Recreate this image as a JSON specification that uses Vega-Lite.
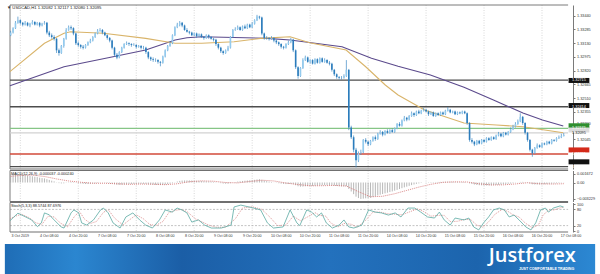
{
"$schema":"https://vega.github.io/schema/vega-lite/v6.json",
"width":600,"height":274,"autosize":{"type":"none"},"padding":0,"background":"white",
"config":{"view":{"stroke":null},"font":"Liberation Sans","axis":{"labelFont":"Liberation Sans"}},
"datasets":{
"c":[
{"i":-4,"o":1.3322,"h":1.3327,"l":1.3321,"c":1.3325,"m":0.001672},
{"i":-3,"o":1.3325,"h":1.3331,"l":1.3324,"c":1.333,"m":0.00165},
{"i":-2,"o":1.333,"h":1.3338,"l":1.3329,"c":1.3336,"m":0.00164},
{"i":-1,"o":1.3336,"h":1.3343,"l":1.3335,"c":1.3339,"m":0.00163},
{"i":0,"o":1.3339,"h":1.334,"l":1.3334,"c":1.3336,"m":0.0016},
{"i":1,"o":1.3336,"h":1.3337,"l":1.3332,"c":1.3334,"m":0.00152},
{"i":2,"o":1.3334,"h":1.3338,"l":1.3333,"c":1.3336,"m":0.00145},
{"i":3,"o":1.3336,"h":1.3337,"l":1.3332,"c":1.3333,"m":0.00136},
{"i":4,"o":1.3333,"h":1.3336,"l":1.3331,"c":1.3335,"m":0.00128},
{"i":5,"o":1.3335,"h":1.3339,"l":1.3334,"c":1.3337,"m":0.00122},
{"i":6,"o":1.3337,"h":1.3338,"l":1.3333,"c":1.3334,"m":0.00113},
{"i":7,"o":1.3334,"h":1.3337,"l":1.3333,"c":1.3336,"m":0.00105},
{"i":8,"o":1.3336,"h":1.3337,"l":1.3331,"c":1.3333,"m":0.00094},
{"i":9,"o":1.3333,"h":1.3336,"l":1.3332,"c":1.3335,"m":0.00086},
{"i":10,"o":1.3335,"h":1.3338,"l":1.3334,"c":1.3336,"m":0.0008},
{"i":11,"o":1.3336,"h":1.3337,"l":1.3323,"c":1.3325,"m":0.00065},
{"i":12,"o":1.3325,"h":1.3327,"l":1.332,"c":1.3322,"m":0.0005},
{"i":13,"o":1.3322,"h":1.3324,"l":1.3318,"c":1.332,"m":0.00036},
{"i":14,"o":1.332,"h":1.3322,"l":1.3316,"c":1.3318,"m":0.00022},
{"i":15,"o":1.3318,"h":1.3319,"l":1.3302,"c":1.3305,"m":0.00004},
{"i":16,"o":1.3305,"h":1.3307,"l":1.3299,"c":1.3302,"m":-0.00012},
{"i":17,"o":1.3302,"h":1.3311,"l":1.3301,"c":1.331,"m":-0.00018},
{"i":18,"o":1.331,"h":1.3319,"l":1.3308,"c":1.3318,"m":-0.00016},
{"i":19,"o":1.3318,"h":1.333,"l":1.3317,"c":1.3328,"m":-0.00005},
{"i":20,"o":1.3328,"h":1.3333,"l":1.3327,"c":1.3331,"m":0.00005},
{"i":21,"o":1.3331,"h":1.3333,"l":1.3328,"c":1.333,"m":0.0001},
{"i":22,"o":1.333,"h":1.3331,"l":1.3322,"c":1.3324,"m":0.00008},
{"i":23,"o":1.3324,"h":1.3325,"l":1.3311,"c":1.3313,"m":-0.00003},
{"i":24,"o":1.3313,"h":1.3315,"l":1.3309,"c":1.3311,"m":-0.00013},
{"i":25,"o":1.3311,"h":1.3312,"l":1.3307,"c":1.3309,"m":-0.00021},
{"i":26,"o":1.3309,"h":1.3311,"l":1.3306,"c":1.3308,"m":-0.00028},
{"i":27,"o":1.3308,"h":1.3312,"l":1.3307,"c":1.3311,"m":-0.0003},
{"i":28,"o":1.3311,"h":1.3315,"l":1.331,"c":1.3314,"m":-0.0003},
{"i":29,"o":1.3314,"h":1.3318,"l":1.3313,"c":1.3316,"m":-0.00027},
{"i":30,"o":1.3316,"h":1.3321,"l":1.3315,"c":1.332,"m":-0.00022},
{"i":31,"o":1.332,"h":1.3325,"l":1.3319,"c":1.3324,"m":-0.00016},
{"i":32,"o":1.3324,"h":1.3329,"l":1.3323,"c":1.3327,"m":-0.0001},
{"i":33,"o":1.3327,"h":1.333,"l":1.3326,"c":1.3328,"m":-0.00005},
{"i":34,"o":1.3328,"h":1.3329,"l":1.3323,"c":1.3325,"m":-0.00004},
{"i":35,"o":1.3325,"h":1.3326,"l":1.3321,"c":1.3322,"m":-0.00006},
{"i":36,"o":1.3322,"h":1.3323,"l":1.3317,"c":1.3319,"m":-0.0001},
{"i":37,"o":1.3319,"h":1.332,"l":1.3314,"c":1.3316,"m":-0.00015},
{"i":38,"o":1.3316,"h":1.3317,"l":1.3306,"c":1.3308,"m":-0.00024},
{"i":39,"o":1.3308,"h":1.3309,"l":1.3298,"c":1.33,"m":-0.00035},
{"i":40,"o":1.33,"h":1.3302,"l":1.3295,"c":1.3297,"m":-0.00044},
{"i":41,"o":1.3297,"h":1.3304,"l":1.3296,"c":1.3303,"m":-0.00046},
{"i":42,"o":1.3303,"h":1.3309,"l":1.3302,"c":1.3308,"m":-0.00044},
{"i":43,"o":1.3308,"h":1.3313,"l":1.3307,"c":1.3312,"m":-0.0004},
{"i":44,"o":1.3312,"h":1.3315,"l":1.3311,"c":1.3313,"m":-0.00036},
{"i":45,"o":1.3313,"h":1.3314,"l":1.331,"c":1.3312,"m":-0.00033},
{"i":46,"o":1.3312,"h":1.3313,"l":1.3309,"c":1.3311,"m":-0.00031},
{"i":47,"o":1.3311,"h":1.3313,"l":1.331,"c":1.3311,"m":-0.00029},
{"i":48,"o":1.3311,"h":1.3312,"l":1.3307,"c":1.3309,"m":-0.00028},
{"i":49,"o":1.3309,"h":1.3311,"l":1.3308,"c":1.331,"m":-0.00026},
{"i":50,"o":1.331,"h":1.3311,"l":1.3306,"c":1.3308,"m":-0.00026},
{"i":51,"o":1.3308,"h":1.331,"l":1.3306,"c":1.3308,"m":-0.00025},
{"i":52,"o":1.3308,"h":1.3309,"l":1.3301,"c":1.3303,"m":-0.00028},
{"i":53,"o":1.3303,"h":1.3304,"l":1.3295,"c":1.3297,"m":-0.00034},
{"i":54,"o":1.3297,"h":1.3298,"l":1.3293,"c":1.3295,"m":-0.00039},
{"i":55,"o":1.3295,"h":1.3297,"l":1.3292,"c":1.3294,"m":-0.00043},
{"i":56,"o":1.3294,"h":1.3296,"l":1.3292,"c":1.3294,"m":-0.00046},
{"i":57,"o":1.3294,"h":1.3295,"l":1.329,"c":1.3292,"m":-0.00049},
{"i":58,"o":1.3292,"h":1.3293,"l":1.3287,"c":1.3291,"m":-0.00051},
{"i":59,"o":1.3291,"h":1.3299,"l":1.329,"c":1.3298,"m":-0.00048},
{"i":60,"o":1.3298,"h":1.3306,"l":1.3297,"c":1.3305,"m":-0.00041},
{"i":61,"o":1.3305,"h":1.3311,"l":1.3304,"c":1.331,"m":-0.00033},
{"i":62,"o":1.331,"h":1.3315,"l":1.3309,"c":1.3313,"m":-0.00024},
{"i":63,"o":1.3313,"h":1.3323,"l":1.3312,"c":1.3322,"m":-0.00012},
{"i":64,"o":1.3322,"h":1.3332,"l":1.3321,"c":1.3331,"m":0.00005},
{"i":65,"o":1.3331,"h":1.3336,"l":1.333,"c":1.3334,"m":0.00019},
{"i":66,"o":1.3334,"h":1.3338,"l":1.3332,"c":1.3336,"m":0.00031},
{"i":67,"o":1.3336,"h":1.3337,"l":1.3331,"c":1.3333,"m":0.00038},
{"i":68,"o":1.3333,"h":1.3334,"l":1.3327,"c":1.3328,"m":0.0004},
{"i":69,"o":1.3328,"h":1.333,"l":1.3325,"c":1.3326,"m":0.00041},
{"i":70,"o":1.3326,"h":1.3327,"l":1.3323,"c":1.3325,"m":0.0004},
{"i":71,"o":1.3325,"h":1.3326,"l":1.3321,"c":1.3322,"m":0.00039},
{"i":72,"o":1.3322,"h":1.3325,"l":1.3321,"c":1.3324,"m":0.00037},
{"i":73,"o":1.3324,"h":1.3325,"l":1.3319,"c":1.3321,"m":0.00034},
{"i":74,"o":1.3321,"h":1.3324,"l":1.332,"c":1.3323,"m":0.00031},
{"i":75,"o":1.3323,"h":1.3324,"l":1.3319,"c":1.332,"m":0.00028},
{"i":76,"o":1.332,"h":1.3321,"l":1.3317,"c":1.3319,"m":0.00025},
{"i":77,"o":1.3319,"h":1.3323,"l":1.3318,"c":1.3322,"m":0.00023},
{"i":78,"o":1.3322,"h":1.3323,"l":1.3318,"c":1.332,"m":0.0002},
{"i":79,"o":1.332,"h":1.3321,"l":1.3317,"c":1.3318,"m":0.00017},
{"i":80,"o":1.3318,"h":1.3319,"l":1.3315,"c":1.3317,"m":0.00013},
{"i":81,"o":1.3317,"h":1.3318,"l":1.331,"c":1.3312,"m":0.00006},
{"i":82,"o":1.3312,"h":1.3313,"l":1.3306,"c":1.3308,"m":-0.00003},
{"i":83,"o":1.3308,"h":1.3309,"l":1.3302,"c":1.3304,"m":-0.00013},
{"i":84,"o":1.3304,"h":1.3305,"l":1.33,"c":1.3302,"m":-0.00021},
{"i":85,"o":1.3302,"h":1.3306,"l":1.3301,"c":1.3305,"m":-0.00024},
{"i":86,"o":1.3305,"h":1.331,"l":1.3304,"c":1.3308,"m":-0.00024},
{"i":87,"o":1.3308,"h":1.3321,"l":1.3307,"c":1.332,"m":-0.00015},
{"i":88,"o":1.332,"h":1.3329,"l":1.3319,"c":1.3328,"m":-0.00002},
{"i":89,"o":1.3328,"h":1.3331,"l":1.3327,"c":1.3329,"m":0.00009},
{"i":90,"o":1.3329,"h":1.3333,"l":1.3328,"c":1.3331,"m":0.00018},
{"i":91,"o":1.3331,"h":1.3332,"l":1.3327,"c":1.3328,"m":0.00024},
{"i":92,"o":1.3328,"h":1.3333,"l":1.3327,"c":1.3332,"m":0.0003},
{"i":93,"o":1.3332,"h":1.3334,"l":1.3329,"c":1.333,"m":0.00035},
{"i":94,"o":1.333,"h":1.3335,"l":1.3329,"c":1.3334,"m":0.00039},
{"i":95,"o":1.3334,"h":1.3335,"l":1.333,"c":1.3331,"m":0.00042},
{"i":96,"o":1.3331,"h":1.3337,"l":1.333,"c":1.3335,"m":0.00046},
{"i":97,"o":1.3335,"h":1.334,"l":1.3334,"c":1.3339,"m":0.00052},
{"i":98,"o":1.3339,"h":1.3345,"l":1.3338,"c":1.3343,"m":0.0006},
{"i":99,"o":1.3343,"h":1.3344,"l":1.334,"c":1.3342,"m":0.00065},
{"i":100,"o":1.3342,"h":1.3343,"l":1.3322,"c":1.3324,"m":0.00052},
{"i":101,"o":1.3324,"h":1.3325,"l":1.3317,"c":1.3319,"m":0.00038},
{"i":102,"o":1.3319,"h":1.3321,"l":1.3317,"c":1.3319,"m":0.00027},
{"i":103,"o":1.3319,"h":1.332,"l":1.3316,"c":1.3318,"m":0.00017},
{"i":104,"o":1.3318,"h":1.3321,"l":1.3317,"c":1.3319,"m":0.0001},
{"i":105,"o":1.3319,"h":1.332,"l":1.3314,"c":1.3316,"m":0.00002},
{"i":106,"o":1.3316,"h":1.3317,"l":1.3312,"c":1.3314,"m":-0.00006},
{"i":107,"o":1.3314,"h":1.3315,"l":1.331,"c":1.3312,"m":-0.00014},
{"i":108,"o":1.3312,"h":1.3313,"l":1.3307,"c":1.3309,"m":-0.00022},
{"i":109,"o":1.3309,"h":1.331,"l":1.3306,"c":1.3308,"m":-0.00029},
{"i":110,"o":1.3308,"h":1.3313,"l":1.3307,"c":1.3312,"m":-0.00031},
{"i":111,"o":1.3312,"h":1.3316,"l":1.3311,"c":1.3314,"m":-0.0003},
{"i":112,"o":1.3314,"h":1.3319,"l":1.3313,"c":1.3317,"m":-0.00027},
{"i":113,"o":1.3317,"h":1.3318,"l":1.3303,"c":1.3305,"m":-0.00034},
{"i":114,"o":1.3305,"h":1.3306,"l":1.3284,"c":1.3286,"m":-0.00053},
{"i":115,"o":1.3286,"h":1.3287,"l":1.3273,"c":1.3276,"m":-0.00074},
{"i":116,"o":1.3276,"h":1.3286,"l":1.3275,"c":1.3285,"m":-0.00082},
{"i":117,"o":1.3285,"h":1.3296,"l":1.3284,"c":1.3294,"m":-0.0008},
{"i":118,"o":1.3294,"h":1.3299,"l":1.3293,"c":1.3297,"m":-0.00075},
{"i":119,"o":1.3297,"h":1.3298,"l":1.3291,"c":1.3292,"m":-0.00073},
{"i":120,"o":1.3292,"h":1.3295,"l":1.329,"c":1.3294,"m":-0.00071},
{"i":121,"o":1.3294,"h":1.3295,"l":1.3289,"c":1.329,"m":-0.00068},
{"i":122,"o":1.329,"h":1.3296,"l":1.3289,"c":1.3295,"m":-0.00065},
{"i":123,"o":1.3295,"h":1.3296,"l":1.329,"c":1.3291,"m":-0.00062},
{"i":124,"o":1.3291,"h":1.3297,"l":1.329,"c":1.3296,"m":-0.00058},
{"i":125,"o":1.3296,"h":1.3297,"l":1.3291,"c":1.3292,"m":-0.00055},
{"i":126,"o":1.3292,"h":1.3296,"l":1.3291,"c":1.3294,"m":-0.00052},
{"i":127,"o":1.3294,"h":1.3295,"l":1.329,"c":1.3291,"m":-0.0005},
{"i":128,"o":1.3291,"h":1.3293,"l":1.3288,"c":1.329,"m":-0.0005},
{"i":129,"o":1.329,"h":1.3291,"l":1.3281,"c":1.3283,"m":-0.00055},
{"i":130,"o":1.3283,"h":1.3284,"l":1.3276,"c":1.3278,"m":-0.00062},
{"i":131,"o":1.3278,"h":1.3279,"l":1.3273,"c":1.3275,"m":-0.00069},
{"i":132,"o":1.3275,"h":1.3276,"l":1.3272,"c":1.3274,"m":-0.00074},
{"i":133,"o":1.3274,"h":1.3276,"l":1.3272,"c":1.3274,"m":-0.00077},
{"i":134,"o":1.3274,"h":1.3278,"l":1.3273,"c":1.3276,"m":-0.00077},
{"i":135,"o":1.3276,"h":1.3294,"l":1.3275,"c":1.3283,"m":-0.00071},
{"i":136,"o":1.3283,"h":1.3284,"l":1.3215,"c":1.3218,"m":-0.00126},
{"i":137,"o":1.3218,"h":1.322,"l":1.3205,"c":1.3207,"m":-0.00176},
{"i":138,"o":1.3207,"h":1.3209,"l":1.319,"c":1.3193,"m":-0.00228},
{"i":139,"o":1.3193,"h":1.3195,"l":1.3173,"c":1.3181,"m":-0.00278},
{"i":140,"o":1.3181,"h":1.3191,"l":1.3179,"c":1.3189,"m":-0.00305},
{"i":141,"o":1.3189,"h":1.3193,"l":1.3187,"c":1.319,"m":-0.003229},
{"i":142,"o":1.319,"h":1.3205,"l":1.3189,"c":1.3204,"m":-0.00316},
{"i":143,"o":1.3204,"h":1.3206,"l":1.32,"c":1.3202,"m":-0.0031},
{"i":144,"o":1.3202,"h":1.3203,"l":1.3197,"c":1.3199,"m":-0.00305},
{"i":145,"o":1.3199,"h":1.3204,"l":1.3198,"c":1.3203,"m":-0.003},
{"i":146,"o":1.3203,"h":1.3208,"l":1.3202,"c":1.3207,"m":-0.00286},
{"i":147,"o":1.3207,"h":1.3209,"l":1.3203,"c":1.3205,"m":-0.0027},
{"i":148,"o":1.3205,"h":1.3212,"l":1.3204,"c":1.3211,"m":-0.00253},
{"i":149,"o":1.3211,"h":1.3215,"l":1.321,"c":1.3213,"m":-0.00239},
{"i":150,"o":1.3213,"h":1.3214,"l":1.3208,"c":1.321,"m":-0.00226},
{"i":151,"o":1.321,"h":1.3215,"l":1.3209,"c":1.3214,"m":-0.00213},
{"i":152,"o":1.3214,"h":1.3216,"l":1.3211,"c":1.3212,"m":-0.002},
{"i":153,"o":1.3212,"h":1.3216,"l":1.3211,"c":1.3215,"m":-0.00187},
{"i":154,"o":1.3215,"h":1.3217,"l":1.3212,"c":1.3213,"m":-0.00175},
{"i":155,"o":1.3213,"h":1.3218,"l":1.3212,"c":1.3217,"m":-0.00161},
{"i":156,"o":1.3217,"h":1.3223,"l":1.3216,"c":1.3222,"m":-0.00144},
{"i":157,"o":1.3222,"h":1.3224,"l":1.3219,"c":1.322,"m":-0.00128},
{"i":158,"o":1.322,"h":1.3227,"l":1.3219,"c":1.3226,"m":-0.00111},
{"i":159,"o":1.3226,"h":1.3231,"l":1.3225,"c":1.3229,"m":-0.00095},
{"i":160,"o":1.3229,"h":1.323,"l":1.3225,"c":1.3227,"m":-0.00081},
{"i":161,"o":1.3227,"h":1.3232,"l":1.3226,"c":1.3231,"m":-0.00066},
{"i":162,"o":1.3231,"h":1.3236,"l":1.323,"c":1.3234,"m":-0.00051},
{"i":163,"o":1.3234,"h":1.3235,"l":1.323,"c":1.3232,"m":-0.00039},
{"i":164,"o":1.3232,"h":1.3237,"l":1.3231,"c":1.3236,"m":-0.00027},
{"i":165,"o":1.3236,"h":1.3238,"l":1.3233,"c":1.3234,"m":-0.00017},
{"i":166,"o":1.3234,"h":1.3238,"l":1.3233,"c":1.3237,"m":-0.00008},
{"i":167,"o":1.3237,"h":1.324,"l":1.3236,"c":1.3238,"m":0},
{"i":168,"o":1.3238,"h":1.3239,"l":1.3235,"c":1.3236,"m":0.00004},
{"i":169,"o":1.3236,"h":1.3237,"l":1.3231,"c":1.3233,"m":0.00006},
{"i":170,"o":1.3233,"h":1.3236,"l":1.3232,"c":1.3235,"m":0.00008},
{"i":171,"o":1.3235,"h":1.3236,"l":1.323,"c":1.3231,"m":0.00008},
{"i":172,"o":1.3231,"h":1.3235,"l":1.323,"c":1.3234,"m":0.0001},
{"i":173,"o":1.3234,"h":1.3235,"l":1.3231,"c":1.3232,"m":0.00011},
{"i":174,"o":1.3232,"h":1.3236,"l":1.3231,"c":1.3235,"m":0.00012},
{"i":175,"o":1.3235,"h":1.3236,"l":1.3232,"c":1.3233,"m":0.00014},
{"i":176,"o":1.3233,"h":1.3238,"l":1.3232,"c":1.3237,"m":0.00016},
{"i":177,"o":1.3237,"h":1.3241,"l":1.3236,"c":1.3238,"m":0.00017},
{"i":178,"o":1.3238,"h":1.3239,"l":1.3234,"c":1.3235,"m":0.00016},
{"i":179,"o":1.3235,"h":1.3237,"l":1.3234,"c":1.3236,"m":0.00014},
{"i":180,"o":1.3236,"h":1.3237,"l":1.3232,"c":1.3233,"m":0.00013},
{"i":181,"o":1.3233,"h":1.3236,"l":1.3232,"c":1.3235,"m":0.00012},
{"i":182,"o":1.3235,"h":1.3236,"l":1.3233,"c":1.3234,"m":0.00011},
{"i":183,"o":1.3234,"h":1.3237,"l":1.3233,"c":1.3236,"m":0.0001},
{"i":184,"o":1.3236,"h":1.3237,"l":1.3233,"c":1.3234,"m":0.00009},
{"i":185,"o":1.3234,"h":1.3235,"l":1.3221,"c":1.3223,"m":0},
{"i":186,"o":1.3223,"h":1.3224,"l":1.3202,"c":1.3204,"m":-0.00018},
{"i":187,"o":1.3204,"h":1.3206,"l":1.32,"c":1.3202,"m":-0.0003},
{"i":188,"o":1.3202,"h":1.3203,"l":1.3197,"c":1.3199,"m":-0.0004},
{"i":189,"o":1.3199,"h":1.3204,"l":1.3198,"c":1.3203,"m":-0.00048},
{"i":190,"o":1.3203,"h":1.3204,"l":1.3199,"c":1.32,"m":-0.00053},
{"i":191,"o":1.32,"h":1.3205,"l":1.3199,"c":1.3204,"m":-0.00056},
{"i":192,"o":1.3204,"h":1.3205,"l":1.3201,"c":1.3202,"m":-0.00058},
{"i":193,"o":1.3202,"h":1.3207,"l":1.3201,"c":1.3206,"m":-0.00058},
{"i":194,"o":1.3206,"h":1.3207,"l":1.3203,"c":1.3204,"m":-0.00057},
{"i":195,"o":1.3204,"h":1.3208,"l":1.3203,"c":1.3207,"m":-0.00055},
{"i":196,"o":1.3207,"h":1.3208,"l":1.3204,"c":1.3205,"m":-0.00052},
{"i":197,"o":1.3205,"h":1.321,"l":1.3204,"c":1.3209,"m":-0.00049},
{"i":198,"o":1.3209,"h":1.3213,"l":1.3208,"c":1.3211,"m":-0.00045},
{"i":199,"o":1.3211,"h":1.3212,"l":1.3207,"c":1.3208,"m":-0.0004},
{"i":200,"o":1.3208,"h":1.3213,"l":1.3207,"c":1.3212,"m":-0.00035},
{"i":201,"o":1.3212,"h":1.3213,"l":1.3209,"c":1.321,"m":-0.00031},
{"i":202,"o":1.321,"h":1.3214,"l":1.3209,"c":1.3213,"m":-0.00026},
{"i":203,"o":1.3213,"h":1.3218,"l":1.3212,"c":1.3216,"m":-0.0002},
{"i":204,"o":1.3216,"h":1.3221,"l":1.3215,"c":1.3219,"m":-0.00012},
{"i":205,"o":1.3219,"h":1.3224,"l":1.3218,"c":1.3222,"m":-0.00005},
{"i":206,"o":1.3222,"h":1.3227,"l":1.3221,"c":1.3225,"m":0.00003},
{"i":207,"o":1.3225,"h":1.3234,"l":1.3224,"c":1.323,"m":0.00011},
{"i":208,"o":1.323,"h":1.3231,"l":1.3221,"c":1.3223,"m":0.00012},
{"i":209,"o":1.3223,"h":1.3224,"l":1.321,"c":1.3212,"m":0.00005},
{"i":210,"o":1.3212,"h":1.3213,"l":1.3202,"c":1.3204,"m":-0.00007},
{"i":211,"o":1.3204,"h":1.3205,"l":1.3191,"c":1.3193,"m":-0.00022},
{"i":212,"o":1.3193,"h":1.3194,"l":1.3185,"c":1.3189,"m":-0.00035},
{"i":213,"o":1.3189,"h":1.3196,"l":1.3188,"c":1.3195,"m":-0.00039},
{"i":214,"o":1.3195,"h":1.32,"l":1.3194,"c":1.3198,"m":-0.0004},
{"i":215,"o":1.3198,"h":1.3199,"l":1.3195,"c":1.3196,"m":-0.00039},
{"i":216,"o":1.3196,"h":1.3201,"l":1.3195,"c":1.32,"m":-0.00037},
{"i":217,"o":1.32,"h":1.3201,"l":1.3198,"c":1.3199,"m":-0.00034},
{"i":218,"o":1.3199,"h":1.3203,"l":1.3198,"c":1.3202,"m":-0.00031},
{"i":219,"o":1.3202,"h":1.3203,"l":1.3199,"c":1.32,"m":-0.00027},
{"i":220,"o":1.32,"h":1.3205,"l":1.3199,"c":1.3204,"m":-0.00023},
{"i":221,"o":1.3204,"h":1.3205,"l":1.3202,"c":1.3203,"m":-0.00019},
{"i":222,"o":1.3203,"h":1.3207,"l":1.3202,"c":1.3206,"m":-0.00015},
{"i":223,"o":1.3206,"h":1.3209,"l":1.3205,"c":1.3207,"m":-0.0001},
{"i":224,"o":1.3207,"h":1.3211,"l":1.3206,"c":1.32082,"m":-0.00006},
{"i":225,"o":1.32082,"h":1.32117,"l":1.3208,"c":1.32095,"m":-0.000037}
],
"ma":[
{"i":-4.3,"p":1.3265,"s":"a"},{"i":18.1,"p":1.32865,"s":"a"},{"i":38.4,"p":1.32978,"s":"a"},{"i":51.9,"p":1.33053,"s":"a"},{"i":64.1,"p":1.33166,"s":"a"},{"i":69,"p":1.33192,"s":"a"},{"i":75.1,"p":1.33203,"s":"a"},{"i":102.3,"p":1.33185,"s":"a"},{"i":111.7,"p":1.33166,"s":"a"},{"i":133.2,"p":1.33091,"s":"a"},{"i":145.4,"p":1.3296,"s":"a"},{"i":156.4,"p":1.32871,"s":"a"},{"i":169.8,"p":1.32772,"s":"a"},{"i":183.7,"p":1.32633,"s":"a"},{"i":195.9,"p":1.3249,"s":"a"},{"i":208.1,"p":1.32343,"s":"a"},{"i":216.2,"p":1.32264,"s":"a"},{"i":224.8,"p":1.32197,"s":"a"},
{"i":-4.3,"p":1.3281,"s":"b"},{"i":10,"p":1.33129,"s":"b"},{"i":18.1,"p":1.33242,"s":"b"},{"i":20.8,"p":1.3326,"s":"b"},{"i":34.4,"p":1.33242,"s":"b"},{"i":51.9,"p":1.33185,"s":"b"},{"i":64.1,"p":1.33129,"s":"b"},{"i":75.1,"p":1.33129,"s":"b"},{"i":88.5,"p":1.33147,"s":"b"},{"i":99.5,"p":1.33185,"s":"b"},{"i":111.7,"p":1.33203,"s":"b"},{"i":119.8,"p":1.33136,"s":"b"},{"i":134.9,"p":1.33053,"s":"b"},{"i":143,"p":1.32865,"s":"b"},{"i":151.1,"p":1.32659,"s":"b"},{"i":156.4,"p":1.32546,"s":"b"},{"i":167.4,"p":1.32377,"s":"b"},{"i":183.7,"p":1.3223,"s":"b"},{"i":197.1,"p":1.32208,"s":"b"},{"i":208.1,"p":1.32189,"s":"b"},{"i":224.8,"p":1.32121,"s":"b"}
],
"sig":[
{"i":-4,"v":0.0012},{"i":0,"v":0.0014},{"i":5,"v":0.00145},{"i":10,"v":0.00118},{"i":15,"v":0.0007},{"i":20,"v":0.0003},{"i":25,"v":0.00005},{"i":30,"v":-0.00015},{"i":35,"v":-0.00015},{"i":40,"v":-0.00025},{"i":45,"v":-0.00035},{"i":50,"v":-0.0003},{"i":55,"v":-0.00033},{"i":60,"v":-0.00043},{"i":65,"v":-0.00025},{"i":70,"v":0.00015},{"i":75,"v":0.00032},{"i":80,"v":0.00025},{"i":85,"v":0},{"i":90,"v":-0.00008},{"i":95,"v":0.0002},{"i":100,"v":0.00045},{"i":105,"v":0.0003},{"i":110,"v":-0.0001},{"i":115,"v":-0.0004},{"i":120,"v":-0.00065},{"i":125,"v":-0.00063},{"i":130,"v":-0.00057},{"i":135,"v":-0.00068},{"i":140,"v":-0.0018},{"i":145,"v":-0.0028},{"i":150,"v":-0.0027},{"i":155,"v":-0.0022},{"i":160,"v":-0.00155},{"i":165,"v":-0.0009},{"i":170,"v":-0.00035},{"i":175,"v":0.00003},{"i":180,"v":0.00013},{"i":185,"v":0.0001},{"i":190,"v":-0.00026},{"i":195,"v":-0.00048},{"i":200,"v":-0.00046},{"i":205,"v":-0.00028},{"i":210,"v":-0.00005},{"i":215,"v":-0.00025},{"i":220,"v":-0.0003},{"i":225,"v":-0.00024}
],
"st":[
{"i":-4.3,"v":38,"s":"K"},{"i":-1,"v":66,"s":"K"},{"i":2,"v":53,"s":"K"},{"i":4.7,"v":41,"s":"K"},{"i":7.1,"v":16,"s":"K"},{"i":8.7,"v":30,"s":"K"},{"i":10,"v":67,"s":"K"},{"i":12,"v":60,"s":"K"},{"i":14,"v":41,"s":"K"},{"i":16.9,"v":15,"s":"K"},{"i":18.1,"v":11,"s":"K"},{"i":21,"v":67,"s":"K"},{"i":22.2,"v":78,"s":"K"},{"i":24.2,"v":67,"s":"K"},{"i":25.4,"v":30,"s":"K"},{"i":27.5,"v":22,"s":"K"},{"i":30.3,"v":41,"s":"K"},{"i":33.2,"v":78,"s":"K"},{"i":34.4,"v":85,"s":"K"},{"i":36.4,"v":67,"s":"K"},{"i":38.4,"v":30,"s":"K"},{"i":41.3,"v":11,"s":"K"},{"i":43.7,"v":52,"s":"K"},{"i":46.6,"v":67,"s":"K"},{"i":49.4,"v":41,"s":"K"},{"i":51.9,"v":22,"s":"K"},{"i":54.7,"v":11,"s":"K"},{"i":57.6,"v":41,"s":"K"},{"i":60,"v":78,"s":"K"},{"i":62.9,"v":70,"s":"K"},{"i":64.9,"v":85,"s":"K"},{"i":66.9,"v":78,"s":"K"},{"i":69,"v":67,"s":"K"},{"i":71,"v":33,"s":"K"},{"i":73.8,"v":41,"s":"K"},{"i":76.3,"v":22,"s":"K"},{"i":79.1,"v":11,"s":"K"},{"i":83.2,"v":11,"s":"K"},{"i":87.3,"v":22,"s":"K"},{"i":88.5,"v":89,"s":"K"},{"i":91.3,"v":96,"s":"K"},{"i":96.6,"v":85,"s":"K"},{"i":99.5,"v":78,"s":"K"},{"i":102.3,"v":30,"s":"K"},{"i":104.8,"v":11,"s":"K"},{"i":108.8,"v":15,"s":"K"},{"i":111.7,"v":78,"s":"K"},{"i":114.5,"v":30,"s":"K"},{"i":115.7,"v":20,"s":"K"},{"i":118.6,"v":78,"s":"K"},{"i":120.6,"v":70,"s":"K"},{"i":122.7,"v":52,"s":"K"},{"i":124.7,"v":67,"s":"K"},{"i":126.7,"v":30,"s":"K"},{"i":129.2,"v":11,"s":"K"},{"i":132,"v":22,"s":"K"},{"i":134,"v":41,"s":"K"},{"i":136,"v":15,"s":"K"},{"i":138.1,"v":11,"s":"K"},{"i":141.4,"v":22,"s":"K"},{"i":144.2,"v":78,"s":"K"},{"i":147,"v":70,"s":"K"},{"i":149.5,"v":67,"s":"K"},{"i":152.4,"v":59,"s":"K"},{"i":155.2,"v":67,"s":"K"},{"i":157.6,"v":52,"s":"K"},{"i":160.5,"v":85,"s":"K"},{"i":163.3,"v":85,"s":"K"},{"i":165.8,"v":70,"s":"K"},{"i":168.6,"v":52,"s":"K"},{"i":171.5,"v":48,"s":"K"},{"i":173.5,"v":70,"s":"K"},{"i":175.5,"v":41,"s":"K"},{"i":178,"v":22,"s":"K"},{"i":180,"v":48,"s":"K"},{"i":183.7,"v":41,"s":"K"},{"i":185.7,"v":48,"s":"K"},{"i":187.7,"v":15,"s":"K"},{"i":189.8,"v":4,"s":"K"},{"i":191.8,"v":30,"s":"K"},{"i":193.9,"v":52,"s":"K"},{"i":195.9,"v":78,"s":"K"},{"i":198.3,"v":85,"s":"K"},{"i":200.4,"v":78,"s":"K"},{"i":202.4,"v":52,"s":"K"},{"i":204.4,"v":59,"s":"K"},{"i":206.5,"v":41,"s":"K"},{"i":209.3,"v":15,"s":"K"},{"i":211.4,"v":4,"s":"K"},{"i":213.4,"v":30,"s":"K"},{"i":215.4,"v":78,"s":"K"},{"i":217.4,"v":85,"s":"K"},{"i":218.7,"v":70,"s":"K"},{"i":220.7,"v":85,"s":"K"},{"i":223.5,"v":93,"s":"K"},{"i":225,"v":88.57,"s":"K"},
{"i":-4.3,"v":45,"s":"D"},{"i":-2,"v":55,"s":"D"},{"i":0.5,"v":62,"s":"D"},{"i":3.5,"v":50,"s":"D"},{"i":6.5,"v":30,"s":"D"},{"i":9,"v":25,"s":"D"},{"i":11.5,"v":55,"s":"D"},{"i":14,"v":52,"s":"D"},{"i":16.5,"v":30,"s":"D"},{"i":19.5,"v":15,"s":"D"},{"i":22.5,"v":55,"s":"D"},{"i":24.5,"v":72,"s":"D"},{"i":26.5,"v":45,"s":"D"},{"i":29,"v":28,"s":"D"},{"i":31.5,"v":35,"s":"D"},{"i":34.5,"v":70,"s":"D"},{"i":36.5,"v":78,"s":"D"},{"i":39,"v":48,"s":"D"},{"i":42.5,"v":22,"s":"D"},{"i":45,"v":40,"s":"D"},{"i":48,"v":60,"s":"D"},{"i":51,"v":45,"s":"D"},{"i":53.5,"v":25,"s":"D"},{"i":56,"v":20,"s":"D"},{"i":59,"v":35,"s":"D"},{"i":61.5,"v":68,"s":"D"},{"i":64,"v":76,"s":"D"},{"i":66.5,"v":80,"s":"D"},{"i":69,"v":72,"s":"D"},{"i":72.5,"v":45,"s":"D"},{"i":75,"v":35,"s":"D"},{"i":78,"v":22,"s":"D"},{"i":81,"v":14,"s":"D"},{"i":85,"v":14,"s":"D"},{"i":89,"v":45,"s":"D"},{"i":92,"v":85,"s":"D"},{"i":96,"v":90,"s":"D"},{"i":100,"v":80,"s":"D"},{"i":103.5,"v":50,"s":"D"},{"i":106.5,"v":20,"s":"D"},{"i":110,"v":22,"s":"D"},{"i":113,"v":55,"s":"D"},{"i":116,"v":38,"s":"D"},{"i":119.5,"v":55,"s":"D"},{"i":122,"v":68,"s":"D"},{"i":124,"v":58,"s":"D"},{"i":126.5,"v":55,"s":"D"},{"i":128.5,"v":30,"s":"D"},{"i":131.5,"v":15,"s":"D"},{"i":134,"v":28,"s":"D"},{"i":137,"v":25,"s":"D"},{"i":139.5,"v":14,"s":"D"},{"i":143,"v":40,"s":"D"},{"i":146,"v":70,"s":"D"},{"i":149,"v":70,"s":"D"},{"i":152,"v":64,"s":"D"},{"i":155,"v":62,"s":"D"},{"i":158,"v":60,"s":"D"},{"i":161.5,"v":72,"s":"D"},{"i":164.5,"v":82,"s":"D"},{"i":167,"v":72,"s":"D"},{"i":170,"v":55,"s":"D"},{"i":173,"v":58,"s":"D"},{"i":175.5,"v":58,"s":"D"},{"i":178,"v":35,"s":"D"},{"i":181,"v":36,"s":"D"},{"i":184,"v":43,"s":"D"},{"i":186.5,"v":42,"s":"D"},{"i":189,"v":22,"s":"D"},{"i":191.5,"v":14,"s":"D"},{"i":194,"v":35,"s":"D"},{"i":196.5,"v":62,"s":"D"},{"i":199.5,"v":80,"s":"D"},{"i":202,"v":72,"s":"D"},{"i":204,"v":60,"s":"D"},{"i":206.5,"v":52,"s":"D"},{"i":209,"v":30,"s":"D"},{"i":212,"v":12,"s":"D"},{"i":214.5,"v":22,"s":"D"},{"i":216.5,"v":60,"s":"D"},{"i":219,"v":78,"s":"D"},{"i":221,"v":78,"s":"D"},{"i":223.5,"v":86,"s":"D"},{"i":225,"v":87.7,"s":"D"}
],
"grid":[{"i":0},{"i":24},{"i":48},{"i":72},{"i":96},{"i":120},{"i":144},{"i":168},{"i":192},{"i":216}],
"dl":[{"i":0,"lab":"3 Oct 2019"},{"i":12,"lab":"4 Oct 08:00"},{"i":24,"lab":"4 Oct 20:00"},{"i":36,"lab":"7 Oct 08:00"},{"i":48,"lab":"7 Oct 20:00"},{"i":60,"lab":"8 Oct 08:00"},{"i":72,"lab":"8 Oct 20:00"},{"i":84,"lab":"9 Oct 08:00"},{"i":96,"lab":"9 Oct 20:00"},{"i":108,"lab":"10 Oct 08:00"},{"i":120,"lab":"10 Oct 20:00"},{"i":132,"lab":"11 Oct 08:00"},{"i":144,"lab":"11 Oct 20:00"},{"i":156,"lab":"14 Oct 08:00"},{"i":168,"lab":"14 Oct 20:00"},{"i":180,"lab":"15 Oct 08:00"},{"i":192,"lab":"15 Oct 20:00"},{"i":204,"lab":"16 Oct 08:00"},{"i":216,"lab":"16 Oct 20:00"},{"i":228,"lab":"17 Oct 08:00"}],
"lv":[
{"p":1.32715,"t":"k","lab":"1.32715"},
{"p":1.32414,"t":"k","lab":"1.32414"},
{"p":1.32171,"t":"g","lab":"1.32171"},
{"p":1.3212,"t":"w","lab":"1.32095"},
{"p":1.31881,"t":"r","lab":"1.31881"},
{"p":1.31738,"t":"k","lab":"1.31738"}
],
"slv":[{"v":80},{"v":20}],
"one":[{}]
},
"resolve":{"scale":{"y":"independent"},"axis":{"y":"independent"}},
"layer":[
{"data":{"name":"one"},"mark":{"type":"rect","color":{"gradient":"linear","x1":0,"y1":0,"x2":1,"y2":0,"stops":[{"offset":0,"color":"#1f6db6"},{"offset":0.12,"color":"#2b86d0"},{"offset":0.3,"color":"#1b5ea6"},{"offset":0.55,"color":"#2371bd"},{"offset":0.8,"color":"#1c64ad"},{"offset":1,"color":"#2c88d3"}]}},
 "encoding":{"x":{"datum":-6.4,"type":"quantitative","scale":{"domain":[-4.27,228.5],"range":[5,577.2],"nice":false,"zero":false},"axis":null},"x2":{"datum":238},"y":{"datum":0,"type":"quantitative","scale":{"domain":[0,1],"range":[244,274],"nice":false,"zero":false},"axis":null},"y2":{"datum":1}}},
{"data":{"name":"one"},"mark":{"type":"text","text":"Justforex","font":"Open Sans","fontSize":20,"fontWeight":600,"color":"white","align":"center","baseline":"alphabetic"},
 "encoding":{"x":{"datum":212,"type":"quantitative","scale":{"domain":[-4.27,228.5],"range":[5,577.2],"nice":false,"zero":false},"axis":null},"y":{"datum":0.59,"type":"quantitative","scale":{"domain":[0,1],"range":[244,274],"nice":false,"zero":false},"axis":null}}},
{"data":{"name":"one"},"mark":{"type":"text","text":"JUST COMFORTABLE TRADING","font":"Liberation Sans","fontSize":3.6,"fontWeight":"bold","color":"white","align":"center","baseline":"middle"},
 "encoding":{"x":{"datum":217.9,"type":"quantitative","scale":{"domain":[-4.27,228.5],"range":[5,577.2],"nice":false,"zero":false},"axis":null},"y":{"datum":0.817,"type":"quantitative","scale":{"domain":[0,1],"range":[244,274],"nice":false,"zero":false},"axis":null}}},

{"data":{"name":"grid"},"mark":{"type":"rule","color":"#bdbdbd","strokeWidth":0.6,"strokeDash":[1,1.5]},
 "encoding":{"x":{"field":"i","type":"quantitative","scale":{"domain":[-4.27,228.5],"range":[5,577.2],"nice":false,"zero":false},"axis":null},"y":{"datum":1.33561,"type":"quantitative","scale":{"domain":[1.31712,1.33561],"range":[169,5],"nice":false,"zero":false},"axis":null},"y2":{"datum":1.31712}}},
{"data":{"name":"one"},"mark":{"type":"rule","color":"#7a7a7a","strokeWidth":1},
 "encoding":{"x":{"datum":-4.27,"type":"quantitative","scale":{"domain":[-4.27,228.5],"range":[5,577.2],"nice":false,"zero":false},"axis":null},"x2":{"datum":226.8},"y":{"datum":1.33561,"type":"quantitative","scale":{"domain":[1.31712,1.33561],"range":[169,5],"nice":false,"zero":false},"axis":null}}},
{"data":{"name":"one"},"mark":{"type":"rule","color":"#707070","strokeWidth":1.2},
 "encoding":{"x":{"datum":-4.27,"type":"quantitative","scale":{"domain":[-4.27,228.5],"range":[5,577.2],"nice":false,"zero":false},"axis":null},"x2":{"datum":226.8},"y":{"datum":1.31712,"type":"quantitative","scale":{"domain":[1.31712,1.33561],"range":[169,5],"nice":false,"zero":false},"axis":null}}},
{"data":{"name":"one"},"mark":{"type":"rule","color":"#7a7a7a","strokeWidth":1},
 "encoding":{"x":{"datum":-4.27,"type":"quantitative","scale":{"domain":[-4.27,228.5],"range":[5,577.2],"nice":false,"zero":false},"axis":null},"y":{"datum":1.33561,"type":"quantitative","scale":{"domain":[1.31712,1.33561],"range":[169,5],"nice":false,"zero":false},"axis":null},"y2":{"datum":1.31712}}},
{"data":{"name":"lv"},"mark":{"type":"rule","strokeWidth":1.3},
 "encoding":{"x":{"datum":-4.27,"type":"quantitative","scale":{"domain":[-4.27,228.5],"range":[5,577.2],"nice":false,"zero":false},"axis":null},"x2":{"datum":226.8},"y":{"field":"p","type":"quantitative","scale":{"domain":[1.31712,1.33561],"range":[169,5],"nice":false,"zero":false},"axis":null},
  "color":{"field":"t","type":"nominal","scale":{"domain":["k","g","r","w"],"range":["#4d4d4d","#86c586","#d24a3a","#d2d2d2"]},"legend":null}}},
{"data":{"name":"ma"},"mark":{"type":"line","strokeWidth":1.1},
 "encoding":{"x":{"field":"i","type":"quantitative","scale":{"domain":[-4.27,228.5],"range":[5,577.2],"nice":false,"zero":false},"axis":null},"y":{"field":"p","type":"quantitative","scale":{"domain":[1.31712,1.33561],"range":[169,5],"nice":false,"zero":false},"axis":null},
  "stroke":{"field":"s","type":"nominal","scale":{"domain":["a","b"],"range":["#5b4a8c","#d9b46a"]},"legend":null}}},
{"data":{"name":"c"},"mark":{"type":"rule","strokeWidth":0.7,"color":"#3f8ac4"},
 "encoding":{"x":{"field":"i","type":"quantitative","scale":{"domain":[-4.27,228.5],"range":[5,577.2],"nice":false,"zero":false},"axis":null},"y":{"field":"l","type":"quantitative","scale":{"domain":[1.31712,1.33561],"range":[169,5],"nice":false,"zero":false},"axis":null},"y2":{"field":"h"}}},
{"data":{"name":"c"},"mark":{"type":"bar","width":1.6},
 "encoding":{"x":{"field":"i","type":"quantitative","scale":{"domain":[-4.27,228.5],"range":[5,577.2],"nice":false,"zero":false},"axis":null},
  "y":{"field":"o","type":"quantitative","scale":{"domain":[1.31712,1.33561],"range":[169,5],"nice":false,"zero":false},"axis":{"orient":"right","offset":-27,"values":[1.3344,1.33285,1.3313,1.32975,1.3282,1.32665,1.3251,1.32355,1.322,1.32045],"format":".5f","title":null,"grid":false,"domainColor":"#7a7a7a","tickColor":"#7a7a7a","tickSize":2,"labelFontSize":3.8,"labelPadding":1.5,"labelColor":"#333333","labelOverlap":false,"labelFlush":false,"labelBound":false,
   "labelBaseline":{"condition":{"test":"abs(datum.value - 1.322) < 0.00001","value":"bottom"},"value":"middle"}}},
  "y2":{"field":"c"},
  "color":{"condition":{"test":"datum.c >= datum.o","value":"#94cbee"},"value":"#2b7cbc"}}},
{"data":{"name":"lv"},"mark":{"type":"bar","height":5},
 "encoding":{"x":{"datum":227.0,"type":"quantitative","scale":{"domain":[-4.27,228.5],"range":[5,577.2],"nice":false,"zero":false},"axis":null},"x2":{"datum":235.6},"y":{"field":"p","type":"quantitative","scale":{"domain":[1.31712,1.33561],"range":[169,5],"nice":false,"zero":false},"axis":null},
  "fill":{"field":"t","type":"nominal","scale":{"domain":["k","g","r","w"],"range":["#111111","#2f8f2f","#d42a1a","#dcdcdc"]},"legend":null}}},
{"data":{"name":"lv"},"transform":[{"filter":"datum.t != 'w'"}],"mark":{"type":"text","fontSize":3.8,"color":"white","align":"center","baseline":"middle","font":"Liberation Sans"},
 "encoding":{"x":{"datum":231.3,"type":"quantitative","scale":{"domain":[-4.27,228.5],"range":[5,577.2],"nice":false,"zero":false},"axis":null},"y":{"field":"p","type":"quantitative","scale":{"domain":[1.31712,1.33561],"range":[169,5],"nice":false,"zero":false},"axis":null},"text":{"field":"lab"}}},
{"data":{"name":"lv"},"transform":[{"filter":"datum.t == 'w'"}],"mark":{"type":"text","fontSize":3.8,"color":"#222222","align":"center","baseline":"middle","font":"Liberation Sans"},
 "encoding":{"x":{"datum":231.3,"type":"quantitative","scale":{"domain":[-4.27,228.5],"range":[5,577.2],"nice":false,"zero":false},"axis":null},"y":{"field":"p","type":"quantitative","scale":{"domain":[1.31712,1.33561],"range":[169,5],"nice":false,"zero":false},"axis":null},"text":{"field":"lab"}}},
{"data":{"name":"one"},"mark":{"type":"text","text":"▼ USDCAD,H1  1.32082 1.32117 1.32080 1.32095","fontSize":4.2,"color":"#222222","align":"left","baseline":"middle","font":"Liberation Sans, DejaVu Sans"},
 "encoding":{"x":{"datum":-5.49,"type":"quantitative","scale":{"domain":[-4.27,228.5],"range":[5,577.2],"nice":false,"zero":false},"axis":null},"y":{"datum":1.33527,"type":"quantitative","scale":{"domain":[1.31712,1.33561],"range":[169,5],"nice":false,"zero":false},"axis":null}}},

{"data":{"name":"grid"},"mark":{"type":"rule","color":"#bdbdbd","strokeWidth":0.6,"strokeDash":[1,1.5]},
 "encoding":{"x":{"field":"i","type":"quantitative","scale":{"domain":[-4.27,228.5],"range":[5,577.2],"nice":false,"zero":false},"axis":null},"y":{"datum":0.002352,"type":"quantitative","scale":{"domain":[-0.003724,0.002352],"range":[201.5,170.5],"nice":false,"zero":false},"axis":null},"y2":{"datum":-0.003724}}},
{"data":{"name":"one"},"mark":{"type":"rule","color":"#707070","strokeWidth":1.2},
 "encoding":{"x":{"datum":-4.27,"type":"quantitative","scale":{"domain":[-4.27,228.5],"range":[5,577.2],"nice":false,"zero":false},"axis":null},"x2":{"datum":226.8},"y":{"datum":0.002352,"type":"quantitative","scale":{"domain":[-0.003724,0.002352],"range":[201.5,170.5],"nice":false,"zero":false},"axis":null}}},
{"data":{"name":"one"},"mark":{"type":"rule","color":"#707070","strokeWidth":1.2},
 "encoding":{"x":{"datum":-4.27,"type":"quantitative","scale":{"domain":[-4.27,228.5],"range":[5,577.2],"nice":false,"zero":false},"axis":null},"x2":{"datum":226.8},"y":{"datum":-0.003724,"type":"quantitative","scale":{"domain":[-0.003724,0.002352],"range":[201.5,170.5],"nice":false,"zero":false},"axis":null}}},
{"data":{"name":"one"},"mark":{"type":"rule","color":"#7a7a7a","strokeWidth":1},
 "encoding":{"x":{"datum":-4.27,"type":"quantitative","scale":{"domain":[-4.27,228.5],"range":[5,577.2],"nice":false,"zero":false},"axis":null},"y":{"datum":0.002352,"type":"quantitative","scale":{"domain":[-0.003724,0.002352],"range":[201.5,170.5],"nice":false,"zero":false},"axis":null},"y2":{"datum":-0.003724}}},
{"data":{"name":"c"},"mark":{"type":"rule","color":"#a6a6a6","strokeWidth":0.8},
 "encoding":{"x":{"field":"i","type":"quantitative","scale":{"domain":[-4.27,228.5],"range":[5,577.2],"nice":false,"zero":false},"axis":null},
  "y":{"field":"m","type":"quantitative","scale":{"domain":[-0.003724,0.002352],"range":[201.5,170.5],"nice":false,"zero":false},"axis":{"orient":"right","offset":-27,"values":[0.001672,0,-0.003229],"labelExpr":"datum.value == 0 ? '0.00' : format(datum.value, '.6f')","title":null,"grid":false,"domainColor":"#7a7a7a","tickColor":"#7a7a7a","tickSize":2,"labelFontSize":3.8,"labelPadding":1.5,"labelColor":"#333333","labelOverlap":false,"labelFlush":false,"labelBound":false}},
  "y2":{"datum":0}}},
{"data":{"name":"sig"},"mark":{"type":"line","color":"#d67a7a","strokeWidth":0.9,"strokeDash":[1,1]},
 "encoding":{"x":{"field":"i","type":"quantitative","scale":{"domain":[-4.27,228.5],"range":[5,577.2],"nice":false,"zero":false},"axis":null},"y":{"field":"v","type":"quantitative","scale":{"domain":[-0.003724,0.002352],"range":[201.5,170.5],"nice":false,"zero":false},"axis":null}}},
{"data":{"name":"one"},"mark":{"type":"text","text":"MACD(12,26,9) -0.000037 -0.000240","fontSize":3.8,"color":"#222222","align":"left","baseline":"middle","font":"Liberation Sans"},
 "encoding":{"x":{"datum":-3.86,"type":"quantitative","scale":{"domain":[-4.27,228.5],"range":[5,577.2],"nice":false,"zero":false},"axis":null},"y":{"datum":0.001666,"type":"quantitative","scale":{"domain":[-0.003724,0.002352],"range":[201.5,170.5],"nice":false,"zero":false},"axis":null}}},

{"data":{"name":"grid"},"mark":{"type":"rule","color":"#bdbdbd","strokeWidth":0.6,"strokeDash":[1,1.5]},
 "encoding":{"x":{"field":"i","type":"quantitative","scale":{"domain":[-4.27,228.5],"range":[5,577.2],"nice":false,"zero":false},"axis":null},"y":{"datum":105.6,"type":"quantitative","scale":{"domain":[-3.7,105.6],"range":[232,202.5],"nice":false,"zero":false},"axis":null},"y2":{"datum":-3.7}}},
{"data":{"name":"slv"},"mark":{"type":"rule","color":"#9a9a9a","strokeWidth":0.6,"strokeDash":[2,1.5]},
 "encoding":{"x":{"datum":-4.27,"type":"quantitative","scale":{"domain":[-4.27,228.5],"range":[5,577.2],"nice":false,"zero":false},"axis":null},"x2":{"datum":226.8},"y":{"field":"v","type":"quantitative","scale":{"domain":[-3.7,105.6],"range":[232,202.5],"nice":false,"zero":false},"axis":null}}},
{"data":{"name":"one"},"mark":{"type":"rule","color":"#707070","strokeWidth":1.2},
 "encoding":{"x":{"datum":-4.27,"type":"quantitative","scale":{"domain":[-4.27,228.5],"range":[5,577.2],"nice":false,"zero":false},"axis":null},"x2":{"datum":226.8},"y":{"datum":105.6,"type":"quantitative","scale":{"domain":[-3.7,105.6],"range":[232,202.5],"nice":false,"zero":false},"axis":null}}},
{"data":{"name":"one"},"mark":{"type":"rule","color":"#707070","strokeWidth":1.2},
 "encoding":{"x":{"datum":-4.27,"type":"quantitative","scale":{"domain":[-4.27,228.5],"range":[5,577.2],"nice":false,"zero":false},"axis":null},"x2":{"datum":226.8},"y":{"datum":-3.7,"type":"quantitative","scale":{"domain":[-3.7,105.6],"range":[232,202.5],"nice":false,"zero":false},"axis":null}}},
{"data":{"name":"one"},"mark":{"type":"rule","color":"#7a7a7a","strokeWidth":1},
 "encoding":{"x":{"datum":-4.27,"type":"quantitative","scale":{"domain":[-4.27,228.5],"range":[5,577.2],"nice":false,"zero":false},"axis":null},"y":{"datum":105.6,"type":"quantitative","scale":{"domain":[-3.7,105.6],"range":[232,202.5],"nice":false,"zero":false},"axis":null},"y2":{"datum":-3.7}}},
{"data":{"name":"st"},"transform":[{"filter":"datum.s == 'D'"}],"mark":{"type":"line","color":"#d98c8c","strokeWidth":0.8,"strokeDash":[1.2,1]},
 "encoding":{"x":{"field":"i","type":"quantitative","scale":{"domain":[-4.27,228.5],"range":[5,577.2],"nice":false,"zero":false},"axis":null},"y":{"field":"v","type":"quantitative","scale":{"domain":[-3.7,105.6],"range":[232,202.5],"nice":false,"zero":false},"axis":null}}},
{"data":{"name":"st"},"transform":[{"filter":"datum.s == 'K'"}],"mark":{"type":"line","color":"#5aa9a2","strokeWidth":0.8},
 "encoding":{"x":{"field":"i","type":"quantitative","scale":{"domain":[-4.27,228.5],"range":[5,577.2],"nice":false,"zero":false},"axis":null},
  "y":{"field":"v","type":"quantitative","scale":{"domain":[-3.7,105.6],"range":[232,202.5],"nice":false,"zero":false},"axis":{"orient":"right","offset":-27,"values":[100,80,20,0],"title":null,"grid":false,"domainColor":"#7a7a7a","tickColor":"#7a7a7a","tickSize":2,"labelFontSize":3.8,"labelPadding":1.5,"labelColor":"#333333","labelOverlap":false,"labelFlush":false,"labelBound":false}}}},
{"data":{"name":"one"},"mark":{"type":"text","text":"Stoch(5,3,3) 88.5744 87.6976","fontSize":3.8,"color":"#222222","align":"left","baseline":"middle","font":"Liberation Sans"},
 "encoding":{"x":{"datum":-3.86,"type":"quantitative","scale":{"domain":[-4.27,228.5],"range":[5,577.2],"nice":false,"zero":false},"axis":null},"y":{"datum":94.4,"type":"quantitative","scale":{"domain":[-3.7,105.6],"range":[232,202.5],"nice":false,"zero":false},"axis":null}}},
{"data":{"name":"dl"},"mark":{"type":"text","fontSize":3.6,"color":"#333333","align":"center","baseline":"middle","font":"Liberation Sans"},
 "encoding":{"x":{"field":"i","type":"quantitative","scale":{"domain":[-4.27,228.5],"range":[5,577.2],"nice":false,"zero":false},"axis":null},"y":{"datum":-18.5,"type":"quantitative","scale":{"domain":[-3.7,105.6],"range":[232,202.5],"nice":false,"zero":false},"axis":null},"text":{"field":"lab"}}}
]
}
